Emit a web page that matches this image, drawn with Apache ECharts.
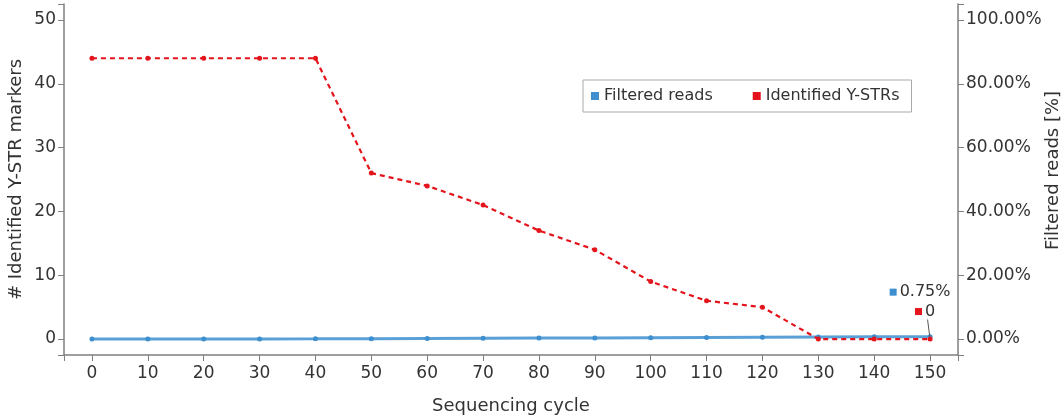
<!DOCTYPE html>
<html>
<head>
<meta charset="utf-8">
<script src="https://cdn.jsdelivr.net/npm/echarts@6/dist/echarts.min.js"></script>
<style>
  html, body { margin: 0; padding: 0; background: #fff; }
  #chart { width: 1062px; height: 419px; }
</style>
</head>
<body>
<div id="chart"></div>
<script>
// sequencing cycles (x axis)
var cycles = [0, 10, 20, 30, 40, 50, 60, 70, 80, 90, 100, 110, 120, 130, 140, 150];
// filtered reads in percent (right axis)
var filteredReads = [0.01, 0.02, 0.03, 0.04, 0.06, 0.12, 0.18, 0.24, 0.30, 0.36, 0.42, 0.49, 0.56, 0.63, 0.70, 0.75];
// identified Y-STR markers (left axis)
var identifiedYSTRs = [44, 44, 44, 44, 44, 26, 24, 21, 17, 14, 9, 6, 5, 0, 0, 0];

var blue = '#3d8fcf';
var red = '#e3141b';
var axisColor = '#7f7f7f';
var textColor = '#333';
var font = 'DejaVu Sans';

var myChart = echarts.init(document.getElementById('chart'));

function pairs(vals) {
  return cycles.map(function (c, i) { return [c, vals[i]]; });
}

// put a small legend-like label on the last point
// (balanced with an empty pad so the text itself sits over the point)
function lastLabel(vals, color, text, balanced) {
  var d = pairs(vals);
  var last = d.length - 1;
  d[last] = {
    value: d[last],
    label: {
      show: true,
      position: 'top',
      formatter: '{sq|}{t|' + text + '}' + (balanced ? '{pad|}' : ''),
      rich: {
        sq: { width: 7, height: 7, backgroundColor: color },
        t: { fontSize: 16, color: textColor, fontFamily: font, padding: [0, 0, 0, 3] },
        pad: { width: 10, height: 7 }
      }
    }
  };
  return d;
}

function axisStyle() {
  return {
    nameMoveOverlap: false,
    axisLine: { show: true, onZero: false, lineStyle: { color: axisColor, width: 1.5 } },
    axisTick: { show: true, lineStyle: { color: axisColor }, length: 6 },
    splitLine: { show: false }
  };
}

myChart.setOption({
  backgroundColor: '#fff',
  animation: false,
  textStyle: { fontFamily: font },
  grid: { left: 64, right: 104, top: 4, bottom: 64, outerBoundsMode: 'none', containLabel: false },
  legend: {
    data: ['Filtered reads', 'Identified Y-STRs'],
    left: 583,
    top: 80,
    itemWidth: 8,
    itemHeight: 8,
    itemGap: 40,
    icon: 'rect',
    padding: [8, 12, 8, 8],
    backgroundColor: '#fff',
    borderColor: '#aaa',
    borderWidth: 1,
    textStyle: { fontSize: 16, color: textColor, fontFamily: font }
  },
  xAxis: Object.assign(axisStyle(), {
    type: 'value',
    min: -5,
    max: 155,
    splitNumber: 15,
    name: 'Sequencing cycle',
    nameLocation: 'middle',
    nameGap: 42,
    nameTextStyle: { fontSize: 18, color: textColor },
    axisLabel: {
      fontSize: 17, color: textColor, margin: 10,
      formatter: function (v) { return v % 10 === 0 ? v : ''; }
    }
  }),
  yAxis: [Object.assign(axisStyle(), {
    type: 'value',
    min: -2.5,
    max: 52.5,
    splitNumber: 5,
    name: '# Identified Y-STR markers',
    nameLocation: 'middle',
    nameGap: 39,
    nameTextStyle: { fontSize: 18, color: textColor },
    axisLabel: {
      fontSize: 17, color: textColor, margin: 8,
      formatter: function (v) { return v % 10 === 0 ? v : ''; }
    }
  }), Object.assign(axisStyle(), {
    type: 'value',
    min: -5,
    max: 105,
    splitNumber: 5,
    position: 'right',
    name: 'Filtered reads [%]',
    nameLocation: 'middle',
    nameGap: 86,
    nameTextStyle: { fontSize: 18, color: textColor, padding: [0, 0, 0, 18] },
    axisLabel: {
      fontSize: 17, color: textColor, margin: 8,
      formatter: function (v) { return v % 20 === 0 ? v.toFixed(2) + '%' : ''; }
    }
  })],
  series: [{
    name: 'Filtered reads',
    type: 'line',
    yAxisIndex: 1,
    data: lastLabel(filteredReads, blue, '0.75%', false),
    color: blue,
    symbol: 'circle',
    symbolSize: 5,
    lineStyle: { color: blue, width: 3, opacity: 0.85 },
    labelLayout: { dx: -10, dy: -29 },
    z: 3
  }, {
    name: 'Identified Y-STRs',
    type: 'line',
    yAxisIndex: 0,
    data: lastLabel(identifiedYSTRs, red, '0', true),
    color: red,
    symbol: 'circle',
    symbolSize: 5,
    lineStyle: { color: red, width: 2.2, type: [5, 4] },
    labelLine: { show: true, lineStyle: { color: '#555', width: 1 } },
    labelLayout: { dy: -12 },
    z: 4
  }]
});
</script>
</body>
</html>
